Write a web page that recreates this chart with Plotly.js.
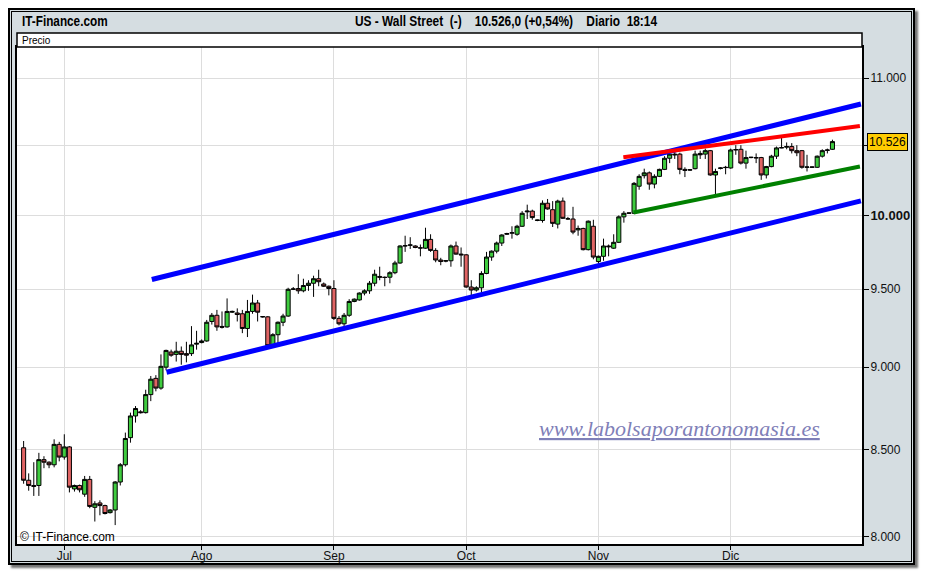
<!DOCTYPE html>
<html>
<head>
<meta charset="utf-8">
<script src="https://cdn.plot.ly/plotly-3.0.1.min.js"></script>
<style>
  html, body { margin:0; padding:0; background:#ffffff; width:926px; height:576px; overflow:hidden; }
  #frame { position:absolute; left:8px; top:8px; width:907px; height:557px; box-sizing:border-box;
           border:2px solid #000; background:#d5dde1; box-shadow:3px 3px 2px rgba(0,0,0,0.55); }
  #inner { position:absolute; left:1px; top:1px; right:1px; bottom:1px; border:1px solid #000; }
  #chart { position:absolute; left:0; top:0; width:926px; height:576px; }
  .hdr { position:absolute; top:13px; height:16px; line-height:16px; font-family:'Liberation Sans', Arial, sans-serif;
         font-weight:bold; font-size:14px; color:#000; white-space:pre; z-index:5; }
  #hdrLeft { left:22px; transform:scaleX(0.84); transform-origin:left center; }
  #hdrCenter { left:506px; transform:translateX(-50%) scaleX(0.85); transform-origin:center center; }
</style>
</head>
<body>
<div id="frame"><div id="inner"></div></div>
<div id="chart"></div>
<div class="hdr" id="hdrLeft">IT-Finance.com</div>
<div class="hdr" id="hdrCenter">US - Wall Street  (-)    10.526,0 (+0,54%)    Diario  18:14</div>
<script>
// ---- Data (daily bars, 6 sessions a week) ----
const dates = [
 '2009-06-22','2009-06-23','2009-06-24','2009-06-25','2009-06-26','2009-06-28','2009-06-29','2009-06-30',
 '2009-07-01','2009-07-02','2009-07-03','2009-07-05','2009-07-06','2009-07-07','2009-07-08','2009-07-09','2009-07-10',
 '2009-07-12','2009-07-13','2009-07-14','2009-07-15','2009-07-16','2009-07-17','2009-07-19','2009-07-20','2009-07-21',
 '2009-07-22','2009-07-23','2009-07-24','2009-07-26','2009-07-27','2009-07-28','2009-07-29','2009-07-30','2009-07-31',
 '2009-08-02','2009-08-03','2009-08-04','2009-08-05','2009-08-06','2009-08-07','2009-08-09','2009-08-10','2009-08-11',
 '2009-08-12','2009-08-13','2009-08-14','2009-08-16','2009-08-17','2009-08-18','2009-08-19','2009-08-20','2009-08-21',
 '2009-08-23','2009-08-24','2009-08-25','2009-08-26','2009-08-27','2009-08-28','2009-08-30','2009-08-31',
 '2009-09-01','2009-09-02','2009-09-03','2009-09-04','2009-09-06','2009-09-07','2009-09-08','2009-09-09','2009-09-10',
 '2009-09-11','2009-09-13','2009-09-14','2009-09-15','2009-09-16','2009-09-17','2009-09-18','2009-09-20','2009-09-21',
 '2009-09-22','2009-09-23','2009-09-24','2009-09-25','2009-09-27','2009-09-28','2009-09-29','2009-09-30',
 '2009-10-01','2009-10-02','2009-10-04','2009-10-05','2009-10-06','2009-10-07','2009-10-08','2009-10-09','2009-10-11',
 '2009-10-12','2009-10-13','2009-10-14','2009-10-15','2009-10-16','2009-10-18','2009-10-19','2009-10-20','2009-10-21',
 '2009-10-22','2009-10-23','2009-10-25','2009-10-26','2009-10-27','2009-10-28','2009-10-29','2009-10-30',
 '2009-11-01','2009-11-02','2009-11-03','2009-11-04','2009-11-05','2009-11-06','2009-11-08','2009-11-09','2009-11-10',
 '2009-11-11','2009-11-12','2009-11-13','2009-11-15','2009-11-16','2009-11-17','2009-11-18','2009-11-19','2009-11-20',
 '2009-11-22','2009-11-23','2009-11-24','2009-11-25','2009-11-26','2009-11-27','2009-11-29','2009-11-30',
 '2009-12-01','2009-12-02','2009-12-03','2009-12-04','2009-12-06','2009-12-07','2009-12-08','2009-12-09','2009-12-10',
 '2009-12-11','2009-12-13','2009-12-14','2009-12-15','2009-12-16','2009-12-17','2009-12-18','2009-12-20','2009-12-21',
 '2009-12-22','2009-12-23','2009-12-24'
];
const openP = [
 8510,8320,8290,8290,8440,8425,8410,8530,
 8455,8515,8270,8290,8240,8325,8165,8190,8175,8135,8150,8310,8410,8570,8700,8725,8720,8830,8930,8870,9000,9095,9080,9100,9085,9085,9145,
 9155,9165,9290,9330,9258,9255,9350,9345,9340,9245,9355,9410,9322,9320,9135,9205,9285,9325,9500,9505,9490,9525,9540,9570,9535,9520,
 9505,9310,9275,9330,9420,9430,9475,9490,9540,9585,9580,9580,9610,9675,9790,9795,9790,9778,9775,9835,9760,9695,9688,9690,9790,9735,
 9730,9515,9495,9510,9605,9715,9755,9810,9870,9878,9870,9925,10025,10030,9965,9965,10085,10040,9940,10100,9975,9975,9900,9910,9765,9925,
 9685,9720,9790,9775,9815,9990,10015,10015,10205,10280,10300,10220,10275,10325,10405,10435,10435,10325,10320,10330,10440,10435,10460,10285,10332,10340,
 10335,10465,10470,10370,10410,10410,10410,10285,10345,10420,10480,10485,10490,10460,10460,10340,10340,10340,10420,10462,10470
];
const highP = [
 8550,8360,8425,8480,8460,8430,8560,8545,
 8590,8520,8295,8295,8345,8345,8200,8205,8180,8155,8315,8420,8600,8720,8760,8735,8860,8945,8950,9080,9110,9110,9160,9130,9160,9260,9230,
 9175,9300,9345,9365,9355,9440,9360,9375,9365,9430,9465,9430,9325,9325,9215,9290,9340,9510,9515,9600,9570,9560,9590,9630,9545,9525,
 9560,9325,9345,9435,9440,9480,9500,9555,9630,9650,9585,9620,9690,9795,9860,9850,9795,9800,9915,9870,9775,9710,9695,9800,9820,9780,
 9735,9560,9520,9620,9750,9760,9820,9870,9880,9925,9935,10030,10075,10040,9970,10105,10115,10100,10110,10125,9990,10060,9930,9915,9965,9970,
 9725,9840,9800,9870,10000,10030,10020,10235,10290,10330,10310,10290,10330,10420,10440,10460,10445,10340,10325,10460,10460,10475,10465,10330,10340,10350,
 10475,10500,10500,10460,10415,10440,10415,10350,10430,10490,10555,10520,10515,10500,10465,10430,10345,10425,10470,10475,10540
];
const lowP = [
 8300,8260,8230,8230,8390,8390,8395,8430,
 8440,8250,8255,8250,8225,8160,8085,8120,8125,8130,8065,8290,8400,8540,8660,8715,8715,8790,8850,8860,8980,9065,9035,9015,9030,9070,9110,
 9150,9160,9270,9230,9245,9250,9345,9290,9215,9190,9340,9290,9315,9130,9125,9140,9260,9320,9495,9470,9480,9490,9450,9520,9515,9460,
 9300,9265,9260,9320,9415,9425,9460,9470,9520,9560,9520,9540,9600,9670,9750,9770,9775,9720,9770,9750,9680,9660,9680,9650,9730,9650,
 9510,9460,9485,9480,9600,9690,9740,9790,9865,9840,9860,9920,9975,9970,9960,9950,10040,9920,9910,9975,9970,9870,9860,9760,9760,9700,
 9660,9690,9720,9770,9810,9950,10010,10010,10180,10260,10180,10190,10270,10320,10370,10400,10290,10270,10315,10325,10400,10400,10280,10140,10325,10290,
 10330,10430,10360,10330,10405,10370,10250,10260,10340,10400,10478,10470,10440,10420,10330,10310,10335,10335,10410,10440,10465
];
const closeP = [
 8320,8290,8285,8440,8425,8410,8530,8455,
 8515,8280,8290,8265,8325,8170,8185,8175,8130,8150,8310,8410,8565,8700,8745,8720,8830,8925,8870,9005,9105,9075,9100,9080,9075,9140,9150,
 9165,9285,9330,9255,9253,9355,9355,9335,9245,9355,9410,9350,9320,9135,9205,9285,9325,9500,9502,9490,9525,9540,9570,9550,9520,9505,
 9310,9275,9330,9420,9435,9475,9490,9540,9600,9580,9578,9610,9675,9790,9792,9797,9780,9776,9835,9760,9695,9685,9690,9790,9735,9730,
 9515,9495,9510,9605,9715,9755,9810,9865,9875,9880,9925,10015,10030,9985,9968,10085,10045,9945,10100,9980,9977,9885,9910,9765,9960,9715,
 9720,9790,9785,9815,9990,10015,10017,10225,10275,10300,10220,10275,10325,10405,10435,10430,10325,10318,10322,10435,10430,10460,10285,10310,10335,10338,
 10465,10468,10370,10410,10412,10408,10285,10345,10420,10480,10482,10490,10460,10445,10340,10342,10342,10420,10460,10465,10526
];
const monthNames = ['Ene','Feb','Mar','Abr','May','Jun','Jul','Ago','Sep','Oct','Nov','Dic'];
const yTickVals = [8000, 8500, 9000, 9500, 10000, 10500, 11000];
const yTickText = ['8.000','8.500','9.000','9.500','<span style="font-size:13px"><b>10.000</b></span>','','11.000'];
const lastPrice = 10526;

// Trend lines: [bar position, price] at both ends
const upperChannelX = [25.2, 164.6], upperChannelY = [9565, 10805];
const lowerChannelX = [28.1, 164.6], lowerChannelY = [8968, 10102];
const resistX = [117.9, 164.4], resistY = [10412, 10641];
const supportX = [119.9, 164.4], supportY = [10020, 10346];

// ---- Build ----
const idx = dates.map((d, i) => i);
const tickVals = [], tickText = [];
dates.forEach((d, i) => {
  if (i > 0 && d.slice(5, 7) !== dates[i - 1].slice(5, 7)) {
    tickVals.push(i);
    tickText.push(monthNames[parseInt(d.slice(5, 7), 10) - 1]);
  }
});

// pixel helpers for decorative text placement (plot area 17..862 x 47..544)
const PL = 17, PR = 862, PT = 47, PB = 544;
const px = x => (x - PL) / (PR - PL);
const py = y => (PB - y) / (PB - PT);

const traces = [
  {
    type: 'candlestick', x: idx, open: openP, high: highP, low: lowP, close: closeP,
    text: dates, hoverinfo: 'skip', whiskerwidth: 0,
    increasing: { line: { color: '#000000', width: 1 }, fillcolor: '#3fcc3f' },
    decreasing: { line: { color: '#000000', width: 1 }, fillcolor: '#e06464' },
    showlegend: false
  },
  { type: 'scatter', mode: 'lines', x: upperChannelX, y: upperChannelY, line: { color: '#0000ff', width: 5 }, hoverinfo: 'skip', showlegend: false },
  { type: 'scatter', mode: 'lines', x: lowerChannelX, y: lowerChannelY, line: { color: '#0000ff', width: 5 }, hoverinfo: 'skip', showlegend: false },
  { type: 'scatter', mode: 'lines', x: resistX, y: resistY, line: { color: '#ff0000', width: 4 }, hoverinfo: 'skip', showlegend: false },
  { type: 'scatter', mode: 'lines', x: supportX, y: supportY, line: { color: '#008000', width: 4 }, hoverinfo: 'skip', showlegend: false }
];

const font = 'Liberation Sans, Arial, sans-serif';
const layout = {
  width: 926, height: 576,
  margin: { l: PL, r: 926 - PR, t: PT, b: 576 - PB, pad: 0 },
  paper_bgcolor: 'rgba(0,0,0,0)', plot_bgcolor: '#ffffff',
  showlegend: false, hovermode: false,
  boxgap: 0.2, boxgroupgap: 0,
  separators: ',.',
  xaxis: {
    type: 'linear', range: [-1.3, 164.81], rangeslider: { visible: false },
    tickmode: 'array', tickvals: tickVals, ticktext: tickText,
    ticks: 'outside', ticklen: 4, tickcolor: '#000', tickwidth: 1, ticklabelstandoff: -4,
    showgrid: true, gridcolor: '#dddddd', gridwidth: 1, zeroline: false,
    showline: true, linecolor: '#000', linewidth: 2, mirror: true,
    tickfont: { family: font, size: 12, color: '#111' }, fixedrange: true
  },
  yaxis: {
    type: 'log', side: 'right', range: [3.9009, 4.0508],
    tickmode: 'array', tickvals: yTickVals, ticktext: yTickText,
    ticks: 'outside', ticklen: 5, tickcolor: '#000', tickwidth: 1, ticklabelstandoff: -1,
    showgrid: true, gridcolor: '#dddddd', gridwidth: 1, zeroline: false,
    showline: true, linecolor: '#000', linewidth: 2, mirror: true,
    tickfont: { family: font, size: 12, color: '#111' }, fixedrange: true
  },
  shapes: [
    { type: 'rect', xref: 'paper', yref: 'paper', x0: 0, x1: 1, y0: 1, y1: py(33),
      fillcolor: '#ffffff', line: { color: '#000', width: 1.5 }, layer: 'above' }
  ],
  annotations: [
    { xref: 'paper', yref: 'paper', x: px(20), y: py(40), xanchor: 'left', yanchor: 'middle', showarrow: false,
      text: 'Precio', font: { family: font, size: 10, color: '#000' } },
    { xref: 'paper', yref: 'paper', x: px(18), y: py(537), xanchor: 'left', yanchor: 'middle', showarrow: false,
      text: '© IT-Finance.com', font: { family: font, size: 12, color: '#000' } },
    { xref: 'paper', yref: 'paper', x: px(679), y: py(428), xanchor: 'center', yanchor: 'middle', showarrow: false,
      text: '<span style="text-decoration:underline">www.labolsaporantonomasia.es</span>',
      font: { family: 'Liberation Serif, DejaVu Serif, serif', size: 22, color: '#7f80b8', style: 'italic' } },
    { xref: 'paper', yref: 'y', x: 1, xshift: 5, y: Math.log10(lastPrice), xanchor: 'left', yanchor: 'middle', showarrow: false,
      text: '10.526', bgcolor: '#ffcc00', bordercolor: '#000', borderwidth: 1, borderpad: 1,
      font: { family: font, size: 12, color: '#000' } }
  ]
};

Plotly.newPlot('chart', traces, layout, { staticPlot: true, displayModeBar: false });
</script>
</body>
</html>
